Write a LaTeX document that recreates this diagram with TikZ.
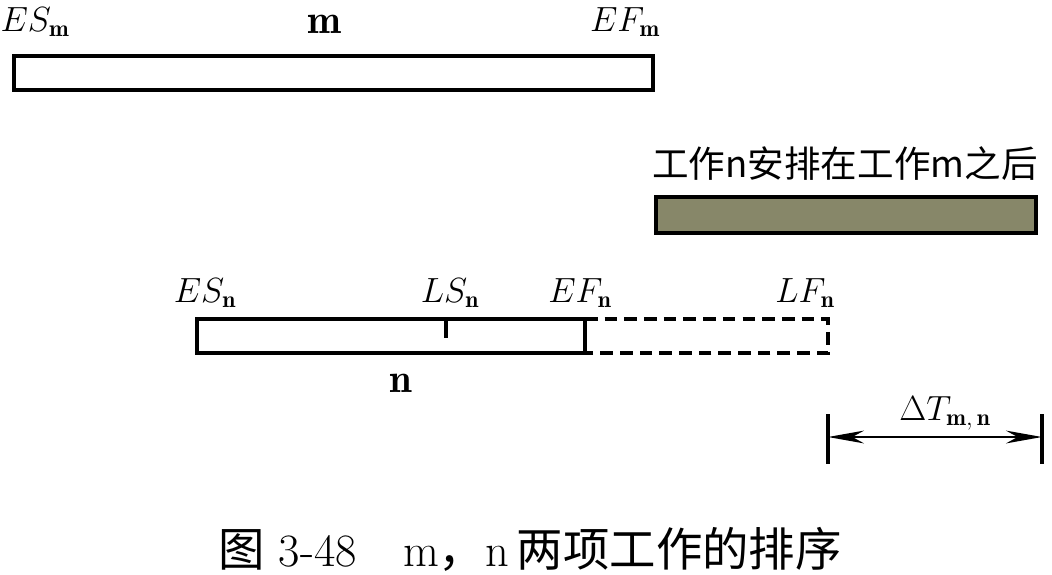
\documentclass[tikz,border=0pt]{standalone}
\usepackage{amsmath}
\usepackage{fontspec}
\usepackage{tikz}
\usetikzlibrary{arrows.meta}
\newfontfamily\cjk{Noto Sans CJK SC}
\definecolor{barfill}{RGB}{135,135,105}
\tikzset{
  bar/.style={draw=black, line width=0.09 cm},
  lbl/.style={anchor=base, inner sep=0pt, font=\fontsize{24}{28}\selectfont},
  big/.style={anchor=base, inner sep=0pt, font=\fontsize{29}{33}\selectfont},
  cn/.style={anchor=base, inner sep=0pt, font=\fontsize{26}{30}\selectfont\cjk}
}

\begin{document}
\begin{tikzpicture}[x=0.025cm, y=-0.025cm]
\useasboundingbox (0,0) rectangle (1052,574);

% work m
\draw[bar] (14,56) rectangle (653,90);
\node[lbl] (esm) at (35,31) {$ES_{\mathbf{m}}$};
\node[big] (m) at (324,33) {$\mathbf{m}$};
\node[lbl] (efm) at (625,31) {$EF_{\mathbf{m}}$};

% n after m
\node[cn] (after) at (845,177) {工作n安排在工作m之后};
\draw[bar, fill=barfill] (656,197) rectangle (1036,233);

% work n
\draw[bar, dash pattern=on 9pt off 5pt] (585,319) -- (828,319) -- (828,353) -- (585,353);
\draw[bar] (197,319) rectangle (585,353);
\draw[line width=0.08 cm] (446,319) -- (446,338);
\node[lbl] (esn) at (205,302) {$ES_{\mathbf{n}}$};
\node[lbl] (lsn) at (450,302) {$LS_{\mathbf{n}}$};
\node[lbl] (efn) at (580,302) {$EF_{\mathbf{n}}$};
\node[lbl] (lfn) at (805,302) {$LF_{\mathbf{n}}$};
\node[big] (n) at (401,392) {$\mathbf{n}$};

% delta T
\coordinate (dl) at (828,437);
\coordinate (dr) at (1042,437);
\draw[line width=0.08 cm] (828,414) -- (828,464);
\draw[line width=0.08 cm] (1042,414) -- (1042,464);
\draw[line width=0.07 cm, {Stealth[length=0.9cm,width=0.32cm]}-{Stealth[length=0.9cm,width=0.32cm]}] (dl) -- (dr);
\node[lbl] (dt) at (945,420) {$\Delta T_{\mathbf{m,\,n}}$};

% caption
\node[anchor=base, inner sep=0pt, font=\fontsize{33}{37}\selectfont] (cap) at (530,566)
  {{\cjk 图} 3-48\quad m{\cjk ，}n\,{\cjk 两项工作的排序}};
\end{tikzpicture}
\end{document}
